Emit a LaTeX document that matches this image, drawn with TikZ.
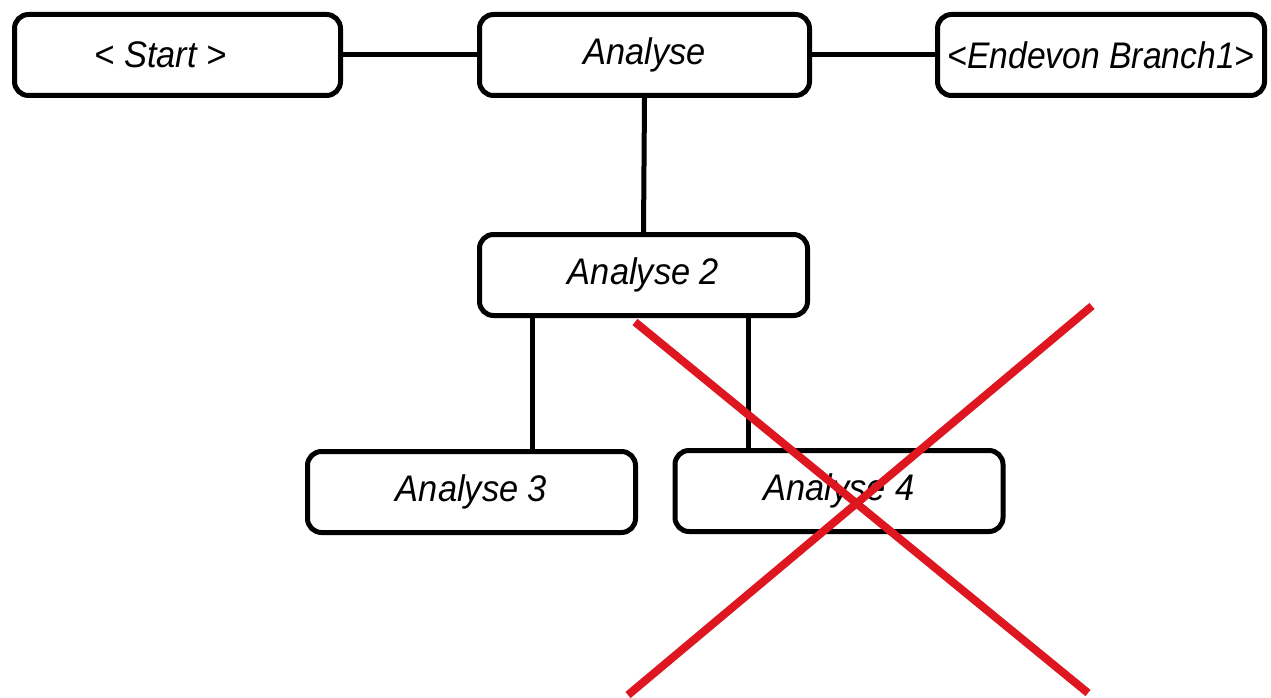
\documentclass[tikz,border=0pt]{standalone}
\usepackage{fontspec}
\setmainfont{Liberation Sans}
\begin{document}
\begin{tikzpicture}[x=1pt,y=-1pt,
  stepbox/.style={draw=black, line width=5pt, rounded corners=14pt, fill=white,
    minimum width=328pt, minimum height=81pt, inner sep=0pt,
    font=\fontsize{37}{44}\selectfont\itshape},
  link/.style={draw=black, line width=5pt},
  cross/.style={draw={rgb,255:red,222;green,22;blue,32}, line width=8pt}]
\useasboundingbox[fill=white] (0,0) rectangle (1271,698);
% top row
\node[stepbox, minimum width=326pt] (start) at (177.5,55) {\hspace*{-34pt}\scalebox{0.93}[1]{< Start >}};
\node[stepbox, minimum width=330pt] (ana) at (644.5,55) {\scalebox{0.93}[1]{Analyse}};
\node[stepbox, minimum width=327pt] (ende) at (1101,55) {\scalebox{0.91}[1]{<Endevon Branch1>}};
% lower levels
\node[stepbox] (ana2) at (643.5,275) {\scalebox{0.93}[1]{Analyse 2}};
\node[stepbox] (ana3) at (471.5,492) {\scalebox{0.93}[1]{Analyse 3}};
\node[stepbox] (ana4) at (839,491) {\scalebox{0.93}[1]{Analyse 4}};
% connectors
\draw[link] (start.east) -- (ana.west);
\draw[link] (ana.east) -- (ende.west);
\draw[link] (ana.south) -- (ana2.north);
\coordinate (d3) at ([xshift=-111.5pt]ana2.south);
\coordinate (d4) at ([xshift=104.5pt]ana2.south);
\draw[link] (d3) -- (d3 |- ana3.north);
\draw[link] (d4) -- (d4 |- ana4.north);
% strike-through
\coordinate (x1) at (635,322);
\coordinate (x2) at (1088,693);
\coordinate (x3) at (1092,306);
\coordinate (x4) at (628,695);
\draw[cross] (x1) -- (x2);
\draw[cross] (x3) -- (x4);
\end{tikzpicture}
\end{document}
